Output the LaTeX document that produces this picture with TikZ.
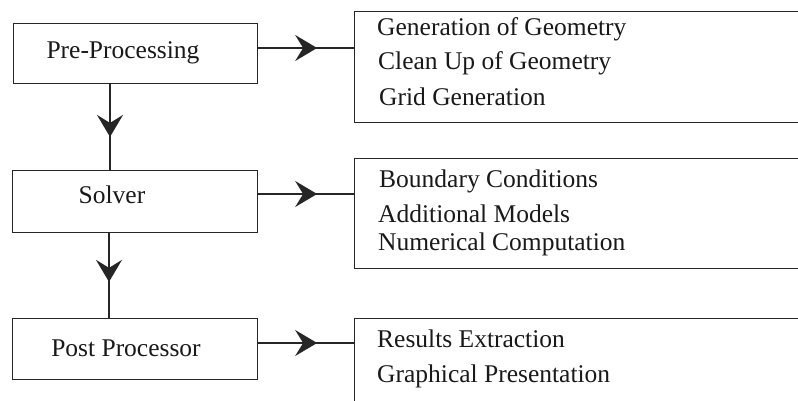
\documentclass[tikz,border=0pt]{standalone}
\usepackage{fontspec}
\setmainfont{Liberation Serif}
\usetikzlibrary{arrows.meta,decorations.markings}
\begin{document}
\begin{tikzpicture}[x=1pt,y=-1pt,
  box/.style={draw=black!85,line width=1.4pt,rectangle,inner sep=0pt,anchor=north west},
  lbl/.style={font=\fontsize{25.5}{30}\selectfont,inner sep=0pt,anchor=base west,text=black!90},
  clbl/.style={font=\fontsize{25.5}{30}\selectfont,inner sep=0pt,anchor=base,text=black!90},
  flow/.style={draw=black!85,line width=1.4pt,postaction={decorate},
    decoration={markings,mark=at position #1 with {\arrow{Stealth[length=22pt,width=26pt,inset=8pt]}}}}
]
\useasboundingbox (0,0) rectangle (798,401);
\clip (0,0) rectangle (798,401);
% left boxes
\node[box,minimum width=244pt,minimum height=60pt] (pre) at (13,23) {};
\node[box,minimum width=245pt,minimum height=62pt] (sol) at (12,170) {};
\node[box,minimum width=245pt,minimum height=61pt] (post) at (12,318) {};
\node[clbl] (pret) at (123,59) {Pre-Processing};
\node[clbl] (solt) at (112,203) {Solver};
\node[clbl] (postt) at (126,356) {Post Processor};
% right boxes
\node[box,minimum width=470pt,minimum height=111pt] (r1) at (354,11) {};
\node[box,minimum width=470pt,minimum height=110pt] (r2) at (354,158) {};
\node[box,minimum width=470pt,minimum height=120pt] (r3) at (354,318) {};
\node[lbl] (t11) at (377,36) {Generation of Geometry};
\node[lbl] (t12) at (378,70) {Clean Up of Geometry};
\node[lbl] (t13) at (379,106) {Grid Generation};
\node[lbl] (t21) at (379,187) {Boundary Conditions};
\node[lbl] (t22) at (378,222) {Additional Models};
\node[lbl] (t23) at (378,250) {Numerical Computation};
\node[lbl] (t31) at (377,347) {Results Extraction};
\node[lbl] (t32) at (377,382) {Graphical Presentation};
% connectors
\coordinate (a1) at (257,48);
\coordinate (b1) at (354,48);
\coordinate (a2) at (257,194);
\coordinate (b2) at (354,194);
\coordinate (a3) at (257,343);
\coordinate (b3) at (354,343);
\coordinate (v1a) at (110,83);
\coordinate (v1b) at (110,170);
\coordinate (v2a) at (109,232);
\coordinate (v2b) at (109,318);
\draw[flow=0.62] (a1) -- (b1);
\draw[flow=0.62] (a2) -- (b2);
\draw[flow=0.62] (a3) -- (b3);
\draw[flow=0.62] (v1a) -- (v1b);
\draw[flow=0.58] (v2a) -- (v2b);
\end{tikzpicture}
\end{document}
